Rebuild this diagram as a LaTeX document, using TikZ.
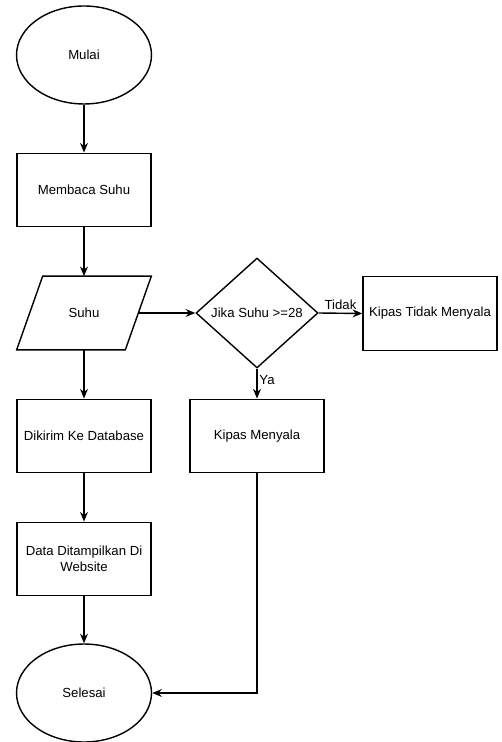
\documentclass[tikz,border=0pt]{standalone}
\usepackage{fontspec}
\setmainfont{Liberation Sans}
\usetikzlibrary{shapes.geometric,arrows.meta,calc}
\begin{document}
\begin{tikzpicture}[x=0.02cm,y=-0.02cm,
    every node/.style={font=\fontsize{7.5}{9}\selectfont},
    terminal/.style={ellipse,draw,line width=0.8pt,minimum width=2.7cm,minimum height=1.96cm},
    proses/.style={rectangle,draw,line width=0.8pt,minimum width=2.68cm,minimum height=1.47cm,align=center},
    putusan/.style={diamond,draw,line width=0.8pt,inner sep=0pt,aspect=1.11,minimum width=2.44cm,minimum height=2.2cm},
    arus/.style={line width=0.8pt,-{Stealth[length=5.5pt,width=4.5pt]}}]
  \useasboundingbox (0,0) rectangle (501,742);
  \node[terminal] (mulai) at (84,55) {Mulai};
  \node[proses] (baca) at (84,190) {Membaca Suhu};
  \node[minimum width=2.16cm,minimum height=1.46cm] (suhu) at (84,313) {Suhu};
  \draw[line width=0.8pt] ($(suhu.north west)+(13,0)$) -- ($(suhu.north east)+(13,0)$)
    -- ($(suhu.south east)+(-13,0)$) -- ($(suhu.south west)+(-13,0)$) -- cycle;
  \node[putusan] (cek) at (257,313) {Jika Suhu >=28};
  \node[proses] (tidak) at (430,313.5) {Kipas Tidak Menyala};
  \node[proses] (nyala) at (257,436) {Kipas Menyala};
  \node[proses] (kirim) at (84,436) {Dikirim Ke Database};
  \node[proses] (tampil) at (84,559) {Data Ditampilkan Di\\Website};
  \node[terminal] (selesai) at (84,693) {Selesai};
  % alur utama
  \draw[arus] (mulai) -- (baca);
  \draw[arus] (baca) -- (suhu);
  \draw[arus] (suhu) -- (kirim);
  \draw[arus] (kirim) -- (tampil);
  \draw[arus] (tampil) -- (selesai);
  % percabangan
  \draw[arus] (suhu.east) -- (cek.west);
  \draw[arus] (cek.east) -- node[above,inner sep=1.5pt] (lbltidak) {Tidak} (tidak.west);
  \draw[arus] (cek.south) -- node[pos=0.38,right,inner sep=1pt] (lblya) {Ya} (nyala.north);
  \draw[arus] (nyala.south) |- (selesai.east);
\end{tikzpicture}
\end{document}
